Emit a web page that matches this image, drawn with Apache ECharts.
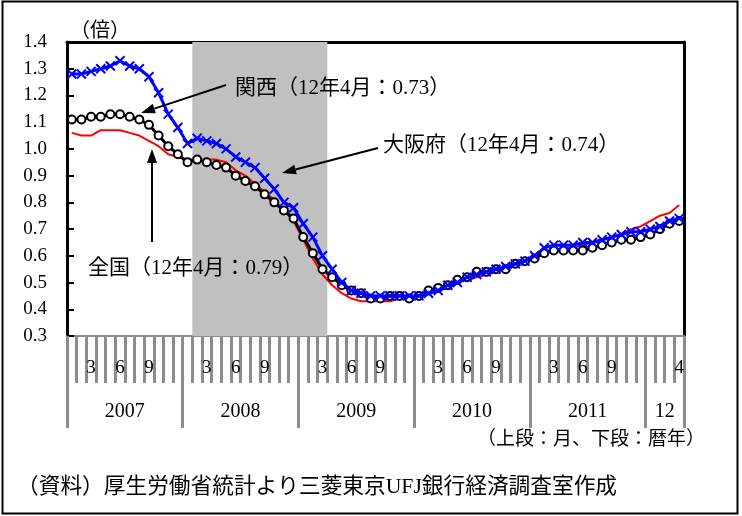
<!DOCTYPE html>
<html>
<head>
<meta charset="utf-8">
<script src="https://cdn.jsdelivr.net/npm/echarts@6/dist/echarts.min.js"></script>
<style>
  html, body { margin: 0; padding: 0; background: #fff; }
  #chart { width: 742px; height: 516px; }
</style>
</head>
<body>
<div id="chart"></div>
<script>
// Calendar: Jan 2007 – Apr 2012, monthly
const years = [2007, 2008, 2009, 2010, 2011, 2012];
const monthsInYear = [12, 12, 12, 12, 12, 4];
const yearLabels = ['2007', '2008', '2009', '2010', '2011', '12'];
// month numbers printed on the upper tier, per year
const monthLabels = [[3, 6, 9], [3, 6, 9], [3, 6, 9], [3, 6, 9], [3, 6, 9], [4]];
// Shaded recession period (first and last month)
const recession = ['2008-02', '2009-03'];

// 有効求人倍率
const zenkoku = [1.06, 1.05, 1.05, 1.07, 1.07, 1.07, 1.06, 1.05, 1.03, 1.01, 0.98, 0.97,
                 0.96, 0.96, 0.96, 0.96, 0.95, 0.92, 0.90, 0.87, 0.84, 0.81, 0.77, 0.73,
                 0.66, 0.59, 0.53, 0.49, 0.46, 0.44, 0.43, 0.43, 0.43, 0.43, 0.44, 0.44,
                 0.45, 0.46, 0.47, 0.48, 0.50, 0.51, 0.52, 0.53, 0.54, 0.55, 0.57, 0.58,
                 0.60, 0.62, 0.62, 0.63, 0.63, 0.64, 0.65, 0.66, 0.67, 0.68, 0.70, 0.71,
                 0.73, 0.75, 0.76, 0.79];
const kansai  = [1.11, 1.11, 1.12, 1.12, 1.13, 1.13, 1.12, 1.11, 1.09, 1.05, 1.01, 0.98,
                 0.95, 0.96, 0.95, 0.94, 0.93, 0.90, 0.88, 0.86, 0.83, 0.80, 0.77, 0.74,
                 0.67, 0.61, 0.55, 0.52, 0.49, 0.47, 0.46, 0.44, 0.44, 0.45, 0.45, 0.44,
                 0.45, 0.47, 0.48, 0.49, 0.51, 0.52, 0.54, 0.54, 0.55, 0.55, 0.57, 0.58,
                 0.59, 0.61, 0.62, 0.62, 0.62, 0.62, 0.63, 0.64, 0.65, 0.66, 0.66, 0.67,
                 0.68, 0.70, 0.72, 0.73];
const osaka   = [1.28, 1.28, 1.29, 1.30, 1.31, 1.33, 1.31, 1.30, 1.27, 1.21, 1.13, 1.08,
                 1.02, 1.04, 1.03, 1.02, 1.00, 0.97, 0.95, 0.93, 0.89, 0.85, 0.80, 0.78,
                 0.72, 0.67, 0.60, 0.55, 0.50, 0.47, 0.46, 0.45, 0.45, 0.45, 0.45, 0.45,
                 0.45, 0.46, 0.47, 0.49, 0.50, 0.52, 0.53, 0.54, 0.55, 0.56, 0.57, 0.58,
                 0.60, 0.63, 0.64, 0.64, 0.64, 0.65, 0.65, 0.66, 0.67, 0.68, 0.69, 0.69,
                 0.70, 0.71, 0.73, 0.74];

const yTicks = { min: 0.3, max: 1.4, step: 0.1 };

// month categories and their boundaries (one more boundary than months)
const months = [];
const monthText = [];
years.forEach((y, k) => {
  for (let m = 1; m <= monthsInYear[k]; m++) {
    months.push(y + '-' + String(m).padStart(2, '0'));
    monthText.push(monthLabels[k].includes(m) ? String(m) : '');
  }
});
const boundaries = months.concat(['end']);
const yearStarts = [];
const yearCenters = {};
{
  let pos = 0;
  monthsInYear.forEach((n, k) => {
    yearStarts.push(pos);
    yearCenters[pos + n / 2] = yearLabels[k];
    pos += n;
  });
  yearStarts.push(pos);
}
const recStart = boundaries[months.indexOf(recession[0])];
const recEnd = boundaries[months.indexOf(recession[1]) + 1];

const SERIF = '"Liberation Serif", "Noto Sans CJK JP", serif';
const GRAY = '#8c8c8c';
const last = a => a[a.length - 1].toFixed(2);

function arrow(tail, tip) {
  const dx = tip[0] - tail[0], dy = tip[1] - tail[1];
  const len = Math.hypot(dx, dy);
  const ux = dx / len, uy = dy / len;
  const hl = 14, hw = 5;
  const bx = tip[0] - ux * hl, by = tip[1] - uy * hl;
  return [
    { type: 'line', silent: true, z: 100, shape: { x1: tail[0], y1: tail[1], x2: bx, y2: by },
      style: { stroke: '#000', lineWidth: 2 } },
    { type: 'polygon', silent: true, z: 100,
      shape: { points: [tip, [bx - uy * hw, by + ux * hw], [bx + uy * hw, by - ux * hw]] },
      style: { fill: '#000' } }
  ];
}
function label(text, x, y, size, align) {
  return { type: 'text', silent: true, z: 100,
    style: { text, x, y, font: size + 'px ' + SERIF, fill: '#000',
             textAlign: align || 'left', textVerticalAlign: 'middle' } };
}

const chart = echarts.init(document.getElementById('chart'));
chart.setOption({
  animation: false,
  backgroundColor: '#fff',
  grid: { left: 67, right: 58, top: 42, bottom: 180, containLabel: false },
  xAxis: [
    { // months
      type: 'category', data: months, boundaryGap: true, position: 'bottom',
      axisLine: { show: true, lineStyle: { color: GRAY, width: 2 } },
      axisTick: { show: true, interval: 0, length: 47, lineStyle: { color: GRAY, width: 3 } },
      axisLabel: {
        interval: 0, margin: 23, color: '#000', fontFamily: SERIF, fontSize: 19,
        formatter: (v, i) => monthText[i]
      },
      splitLine: { show: false }
    },
    { // years
      type: 'category', data: boundaries, boundaryGap: false, position: 'bottom',
      axisLine: { show: false },
      axisTick: { show: true, length: 92, interval: i => yearStarts.includes(i),
                  lineStyle: { color: GRAY, width: 3 } },
      axisLabel: { interval: i => yearCenters[i] !== undefined, margin: 66,
                   color: '#000', fontFamily: SERIF, fontSize: 20,
                   formatter: (v, i) => yearCenters[i] || '' },
      splitLine: { show: false }
    },
    { // top frame
      type: 'category', data: months, position: 'top',
      axisLine: { show: true, lineStyle: { color: '#000', width: 3 } },
      axisTick: { show: false }, axisLabel: { show: false }, splitLine: { show: false }
    }
  ],
  yAxis: [
    {
      type: 'value', min: yTicks.min, max: yTicks.max, interval: yTicks.step,
      axisLine: { show: true, lineStyle: { color: '#000', width: 3 } },
      axisTick: { show: true, inside: true, length: 7, lineStyle: { color: '#000', width: 2 } },
      axisLabel: { margin: 20, color: '#000', fontFamily: SERIF, fontSize: 19,
                   formatter: v => v.toFixed(1) },
      splitLine: { show: false }
    },
    { // right frame
      type: 'value', min: yTicks.min, max: yTicks.max, interval: yTicks.step, position: 'right',
      axisLine: { show: true, lineStyle: { color: '#000', width: 3 } },
      axisTick: { show: false }, axisLabel: { show: false }, splitLine: { show: false }
    }
  ],
  series: [
    {
      name: 'recession', type: 'line', xAxisIndex: 1, yAxisIndex: 0, data: [], z: 1,
      markArea: { silent: true, itemStyle: { color: '#c0c0c0', opacity: 1 },
                  data: [[{ xAxis: recStart }, { xAxis: recEnd }]] }
    },
    {
      name: '全国', type: 'line', data: zenkoku, symbol: 'none', z: 2,
      lineStyle: { color: '#ff0000', width: 2 }
    },
    {
      name: '関西', type: 'line', data: kansai, symbol: 'circle', symbolSize: 8, z: 3,
      lineStyle: { color: '#000', width: 3 },
      itemStyle: { color: '#fff', borderColor: '#000', borderWidth: 2 }
    },
    {
      name: '大阪府', type: 'line', data: osaka, z: 4,
      symbol: 'path://M0,0L10,10M10,0L0,10', symbolSize: 9,
      lineStyle: { color: '#0000ff', width: 3 },
      itemStyle: { color: '#0000ff', borderColor: '#0000ff', borderWidth: 2 }
    }
  ],
  graphic: [
    { type: 'rect', silent: true, z: 100, shape: { x: 2.5, y: 1.5, width: 735, height: 512 },
      style: { fill: 'none', stroke: '#000', lineWidth: 2 } },
    label('（倍）', 70, 32, 20),
    label('関西（12年4月：' + last(kansai) + '）', 235, 88, 21),
    label('大阪府（12年4月：' + last(osaka) + '）', 383, 145, 21),
    label('全国（12年4月：' + last(zenkoku) + '）', 88, 268, 21),
    ...arrow([226, 85], [141, 113]),
    ...arrow([378, 148], [282, 173]),
    ...arrow([152, 242], [152, 149]),
    label('（上段：月、下段：暦年）', 705, 440, 19, 'right'),
    label('（資料）厚生労働省統計より三菱東京UFJ銀行経済調査室作成', 17, 487, 21.7)
  ]
});
</script>
</body>
</html>
